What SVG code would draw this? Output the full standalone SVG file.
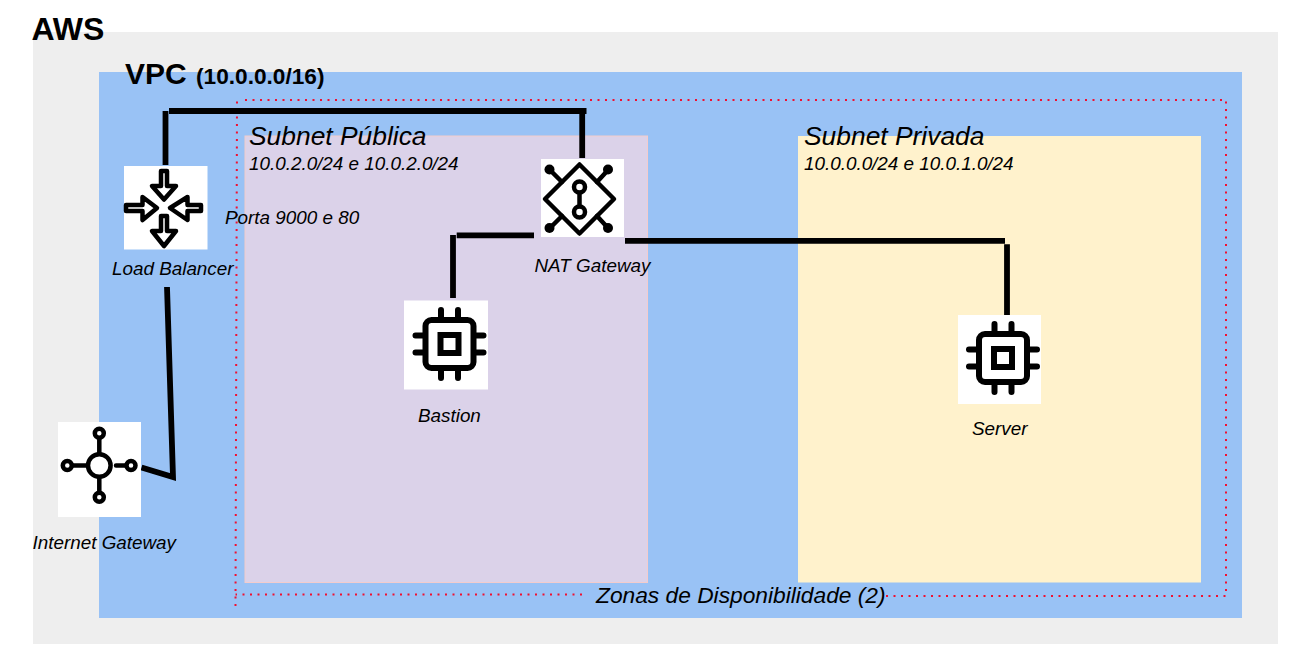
<svg xmlns="http://www.w3.org/2000/svg" width="1295" height="667" viewBox="0 0 1295 667">
<style>
text{font-family:"Liberation Sans",Arial,sans-serif;fill:#000}
.i{font-style:italic}
.s{font-size:18.85px}
.t{font-size:26.4px}
.b{font-weight:bold}
.w{fill:#fff}
.ic{fill:none;stroke:#000;stroke-width:4.5;stroke-linecap:round;stroke-linejoin:round}
.ict{stroke-width:6}
.lb{stroke-width:4.5}
.dot{fill:#000}
.c{fill:none;stroke:#000;stroke-width:5.8}
</style>
<defs>
<g id="chip">
<rect x="-24" y="-24" width="48" height="48" rx="6" class="ic ict"/>
<rect x="-9" y="-9" width="18" height="18" class="ic ict" style="stroke-linejoin:miter"/>
<path class="ic ict" d="M-8.500-26V-34M8.500-26V-34M-8.500 26V34M8.500 26V34M-26-8.500H-34M-26 8.500H-34M26-8.500H34M26 8.500H34"/>
</g>
</defs>
<g id="aws"><rect x="33" y="32" width="1245" height="612" fill="#eeeeee"/><text x="31.500" y="40" class="b" font-size="32">AWS</text></g>
<g id="vpc"><rect x="99" y="72" width="1143" height="546" fill="#99c2f5"/><text x="125" y="84" class="b" font-size="30">VPC</text><text x="196" y="84" class="b" font-size="22.670">(10.0.0.0/16)</text></g>
<g id="subnet-publica"><rect x="245" y="136" width="402.500" height="446.500" fill="#dbd2e9" stroke="#f4cccc" stroke-width="1"/><text x="249" y="145" class="i t">Subnet Pública</text><text x="249" y="170" class="i s">10.0.2.0/24 e 10.0.2.0/24</text></g>
<g id="subnet-privada"><rect x="798" y="136" width="403" height="446.500" fill="#fff2cc"/><text x="804" y="145" class="i t">Subnet Privada</text><text x="804" y="170" class="i s">10.0.0.0/24 e 10.0.1.0/24</text></g>
<g id="zonas"><path d="M245 100H1226V596H886M582 594.500H235.500M235.500 606L237 100" fill="none" stroke="#f01030" stroke-width="2" stroke-dasharray="2 5.500"/><text x="596" y="603" class="i" font-size="22.750">Zonas de Disponibilidade (2)</text></g>
<g id="connectors">
<path class="c" d="M165.500 111V165"/>
<path class="c" d="M169 111H586.500M582.200 114V158"/>
<path class="c" d="M534 235.300H456.700M453 235V298"/>
<path class="c" d="M625 240.800H1005M1007 244.300V315"/>
<path class="c" d="M167 287L173 477L141.500 467.500"/>
</g>
<g id="load-balancer"><rect x="124" y="166" width="83.500" height="83.500" class="w"/>
<path class="ic lb" d="M161 171H167V186H176L164 199.500L152 186H161ZM161 216H167V231H176L164 246L152 231H161Z"/>
<path class="ic lb" d="M126 205H142.500V197L157 208L142.500 220V211H126ZM201 205H187.500V197L170 208L187.500 220V211H201Z"/>
<text x="112" y="274.500" class="i s">Load Balancer</text><text x="225" y="224" class="i s">Porta 9000 e 80</text></g>
<g id="nat-gateway"><rect x="541" y="159" width="83" height="78" class="w"/>
<path class="ic" d="M579.500 164.500L614 199L579.500 233.500L545 199Z"/>
<path class="ic" d="M562 182L550 170M597 182L608 170M562 216L550 228M597 216L608 228M579.500 193V206"/>
<circle cx="549.500" cy="169.500" r="5" class="dot"/><circle cx="608" cy="169.500" r="5" class="dot"/><circle cx="549.500" cy="228" r="5" class="dot"/><circle cx="608" cy="228" r="5" class="dot"/>
<circle cx="579.500" cy="187" r="5.500" class="ic"/><circle cx="579.500" cy="212" r="5.500" class="ic"/>
<text x="534.500" y="272" class="i s">NAT Gateway</text></g>
<g id="bastion"><rect x="404" y="300.500" width="84" height="89" class="w"/><use href="#chip" x="449.500" y="344"/><text x="418" y="421.500" class="i s">Bastion</text></g>
<g id="server"><rect x="958" y="315" width="83" height="89" class="w"/><use href="#chip" x="1003" y="358"/><text x="972" y="435" class="i s">Server</text></g>
<g id="internet-gateway"><rect x="58" y="422" width="83" height="95" class="w"/>
<circle cx="99.300" cy="465.500" r="11.300" class="ic"/>
<path class="ic" d="M99.300 453V439M99.300 478V491M87 465.500H73M116 465.500H125"/>
<circle cx="99.300" cy="433.300" r="4.500" class="ic"/><circle cx="99.300" cy="497.300" r="4.500" class="ic"/><circle cx="67.300" cy="465.500" r="4.500" class="ic"/><circle cx="131" cy="465.500" r="4.500" class="ic"/>
<text x="32.500" y="548.500" class="i s">Internet Gateway</text></g>
</svg>
